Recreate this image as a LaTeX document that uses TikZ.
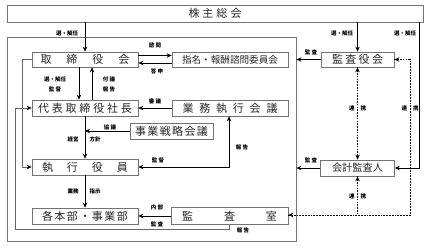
\documentclass[tikz,border=0pt]{standalone}
\usepackage{fontspec}
\setmainfont{Noto Sans CJK JP}
\usetikzlibrary{arrows.meta}
\newcommand{\sprd}[2]{\makebox[#1pt][s]{#2}}
\begin{document}
\begin{tikzpicture}[x=1pt,y=-1pt,
  box/.style={draw=black!55, line width=0.7pt, fill=white, rectangle, inner sep=0pt,
    text=black!85, font=\fontsize{11}{11}\selectfont},
  frame/.style={draw=black!55, line width=0.8pt, rectangle, inner sep=0pt},
  lbl/.style={inner sep=0pt, font=\fontsize{5.5}{5.5}\selectfont\bfseries},
  arr/.style={line width=0.9pt, -{Stealth[length=5pt,width=4.5pt]}},
  arrboth/.style={line width=0.9pt, {Stealth[length=5pt,width=4.5pt]}-{Stealth[length=5pt,width=4.5pt]}},
  loopline/.style={draw=black!60, line width=0.7pt, -{Stealth[length=5pt,width=4.5pt,color=black]}},
  dotline/.style={line width=1pt, dash pattern=on 1.7pt off 1.1pt},
  tip/.style={line width=0.9pt, -{Stealth[length=5pt,width=4.5pt]}}
]
\useasboundingbox (0,0) rectangle (433,248);

% frames
\node[frame, minimum width=289pt, minimum height=204pt] (company) at (151.5,139) {};
\node[box, minimum width=416pt, minimum height=17pt] (soukai) at (215,13.5) {\sprd{53}{株\hfill 主\hfill 総\hfill 会}};

% boxes
\node[box, minimum width=106pt, minimum height=15pt] (tori) at (85,59.5) {\sprd{89}{取\hfill 締\hfill 役\hfill 会}};
\node[box, minimum width=116pt, minimum height=15pt, font=\fontsize{9.6}{9.6}\selectfont] (iinkai) at (230,59.5) {\sprd{96}{指\hfill 名\hfill ・\hfill 報\hfill 酬\hfill 諮\hfill 問\hfill 委\hfill 員\hfill 会}};
\node[box, minimum width=106pt, minimum height=16pt] (shacho) at (85,108) {\sprd{94}{代\hfill 表\hfill 取\hfill 締\hfill 役\hfill 社\hfill 長}};
\node[box, minimum width=116pt, minimum height=16pt] (gyomu) at (230,108) {\sprd{95}{業\hfill 務\hfill 執\hfill 行\hfill 会\hfill 議}};
\node[box, minimum width=83pt, minimum height=16pt] (senryaku) at (171.5,131) {\sprd{73}{事\hfill 業\hfill 戦\hfill 略\hfill 会\hfill 議}};
\node[box, minimum width=106pt, minimum height=16pt] (shikko) at (85,167) {\sprd{86}{執\hfill 行\hfill 役\hfill 員}};
\node[box, minimum width=106pt, minimum height=16pt] (honbu) at (85,216) {\sprd{86}{各\hfill 本\hfill 部\hfill ・\hfill 事\hfill 業\hfill 部}};
\node[box, minimum width=117pt, minimum height=17pt] (shitsu) at (229.5,216) {\sprd{95}{監\hfill 査\hfill 室}};
\node[box, minimum width=73pt, minimum height=15pt] (kansayaku) at (357.5,59.5) {\sprd{51}{監\hfill 査\hfill 役\hfill 会}};
\node[box, minimum width=74pt, minimum height=16pt, font=\fontsize{10.2}{10.2}\selectfont] (kaikei) at (357.5,168) {会計監査人};

% helper coordinates
\coordinate (rtop) at (419,22);
\coordinate (lcA) at (22,59.5);
\coordinate (lcB) at (15,229);
\coordinate (dc) at (410,215);

% solid connectors
\draw[arr] (soukai.south -| tori.north) -- (tori.north);
\draw[arr] (soukai.south -| kansayaku.north) -- (kansayaku.north);
\draw[arr] (rtop) |- (kaikei.east);
\draw[arr] ([yshift=4pt]tori.east) -- ([yshift=4pt]iinkai.west);
\draw[arr] ([yshift=-3.5pt]iinkai.west) -- ([yshift=-3.5pt]tori.east);
\draw[arr] ([xshift=-6pt]tori.south) -- ([xshift=-6pt]shacho.north);
\draw[arr] ([xshift=7pt]shacho.north) -- ([xshift=7pt]tori.south);
\draw[arr] (gyomu.west) -- (shacho.east);
\draw[arr] (shacho.south) -- (shikko.north);
\draw[arr] (senryaku.west) -- (senryaku.west -| shacho.south);
\draw[arr] (shikko.south) -- (honbu.north);
\draw[arr] (shitsu.west) -- (honbu.east);
\draw[arrboth] (shikko.east) -| ([xshift=-1pt]gyomu.south);
\draw[arr] (kansayaku.west) -- (kansayaku.west -| company.east);
\draw[arr] (kaikei.west) -- (kaikei.west -| company.east);

% grey loop lines
\draw[loopline] (tori.west) -- (lcA) |- (shikko.west);
\draw[loopline] ([xshift=-0.5pt]shitsu.south) |- (lcB) |- (shacho.west);

% dotted connectors
\draw[dotline] (kansayaku.south) -- (kaikei.north);
\draw[dotline] (kansayaku.east) -| (dc) -- (dc -| shitsu.east);
\draw[dotline] (kaikei.south) -- (kaikei.south |- dc);
\draw[tip] ([yshift=-3pt]kansayaku.south) -- (kansayaku.south);
\draw[tip] ([yshift=3pt]kaikei.north) -- (kaikei.north);
\draw[tip] ([yshift=-3pt]kaikei.south) -- (kaikei.south);
\draw[tip] ([xshift=3pt]kansayaku.east) -- (kansayaku.east);
\draw[tip] ([xshift=3pt]dc -| shitsu.east) -- (dc -| shitsu.east);

% labels
\node[lbl] (l1) at (67,33) {選・解任};
\node[lbl] (l2) at (155,45) {諮 問};
\node[lbl] (l3) at (157,71) {答 申};
\node[lbl] (l4) at (55,79) {選・解任};
\node[lbl] (l5) at (55,89) {監 督};
\node[lbl] (l6) at (109,79) {付 議};
\node[lbl] (l7) at (109,89) {報 告};
\node[lbl] (l8) at (155,101) {審 議};
\node[lbl] (l9) at (110,127) {協 議};
\node[lbl] (l10) at (73,139) {経営};
\node[lbl] (l11) at (95,139) {方針};
\node[lbl] (l12) at (158,160) {監 督};
\node[lbl] (l13) at (242,147) {報 告};
\node[lbl] (l14) at (73,191) {業務};
\node[lbl] (l15) at (95,191) {指示};
\node[lbl] (l16) at (157,207) {内 部};
\node[lbl] (l17) at (157,224) {監 査};
\node[lbl] (l18) at (243,230) {報 告};
\node[lbl] (l19) at (311,52) {監 査};
\node[lbl] (l20) at (311,160) {監 査};
\node[lbl] (l21) at (342,33) {選・解任};
\node[lbl] (l22) at (405,33) {選・解任};
\node[lbl] (l23) at (357.5,108) {連\hspace{6pt}携};
\node[lbl] (l24) at (410,108) {連\hspace{6pt}携};
\node[lbl] (l25) at (357.5,196) {連\hspace{6pt}携};
\end{tikzpicture}
\end{document}
